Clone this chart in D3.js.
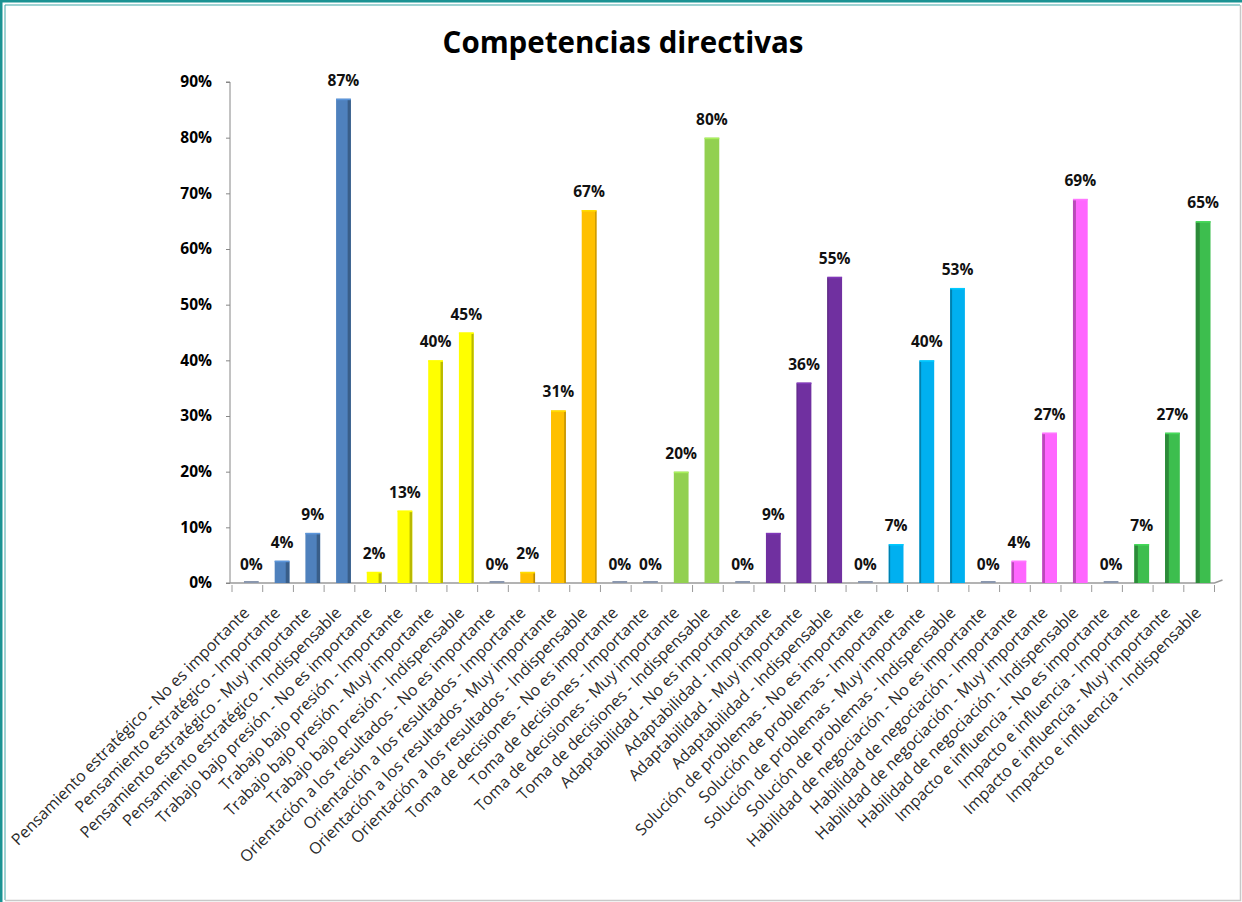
<!DOCTYPE html>
<html>
<head>
<meta charset="utf-8">
<script src="https://cdn.jsdelivr.net/npm/d3@7"></script>
<style>
  html, body { margin: 0; padding: 0; background: #fff; }
  svg { display: block; }
</style>
</head>
<body>
<svg id="chart" width="1242" height="902"></svg>
<script>
// Competencias evaluadas y niveles de importancia
const competencias = [
  "Pensamiento estratégico", "Trabajo bajo presión", "Orientación a los resultados",
  "Toma de decisiones", "Adaptabilidad", "Solución de problemas",
  "Habilidad de negociación", "Impacto e influencia"
];
const niveles = ["No es importante", "Importante", "Muy importante", "Indispensable"];

// Porcentaje de respuestas por nivel (mismo orden que `niveles`)
const pensamiento   = [0, 4, 9, 87];
const trabajo       = [2, 13, 40, 45];
const orientacion   = [0, 2, 31, 67];
const toma          = [0, 0, 20, 80];
const adaptabilidad = [0, 9, 36, 55];
const solucion      = [0, 7, 40, 53];
const habilidad     = [0, 4, 27, 69];
const impacto       = [0, 7, 27, 65];

const colores = ["#4F81BD", "#FFFF00", "#FFC000", "#92D050", "#7030A0", "#00B0F0", "#FF66FF", "#3DBE4E"];
const yTicks = [0, 10, 20, 30, 40, 50, 60, 70, 80, 90];

const series = [pensamiento, trabajo, orientacion, toma, adaptabilidad, solucion, habilidad, impacto];
const data = [];
competencias.forEach((c, i) => {
  niveles.forEach((n, j) => {
    data.push({ label: c + " - " + n, value: series[i][j], color: colores[i] });
  });
});

const svg = d3.select("#chart");
const W = 1242, H = 902;

// Marco de la ventana
svg.append("rect").attr("x", 0).attr("y", 0).attr("width", W).attr("height", H).attr("fill", "#fff");
svg.append("path").attr("d", `M1,${H} L1,1 L${W},1`).attr("fill", "none").attr("stroke", "#1A9393").attr("stroke-width", 3);
svg.append("path").attr("d", `M5,${H - 2} L5,5 L${W - 2},5`).attr("fill", "none").attr("stroke", "#3FA7A7").attr("stroke-width", 1);
svg.append("path").attr("d", `M5,${H - 1.5} L${W - 1.5},${H - 1.5} L${W - 1.5},5`).attr("fill", "none").attr("stroke", "#C8C8C8").attr("stroke-width", 1.5);

const x = d3.scaleBand().domain(data.map(d => d.label)).range([236, 1218.5]).paddingInner(0.52).paddingOuter(0.26);
const y = d3.scaleLinear().domain([0, 90]).range([583, 82]);

const font = "'Open Sans', 'DejaVu Sans', sans-serif";

// Título
svg.append("text").attr("x", 623).attr("y", 53).attr("text-anchor", "middle")
  .attr("font-family", font).attr("font-weight", "bold").attr("font-size", 29.5)
  .attr("fill", "#000").text("Competencias directivas");

// Eje Y
const yAxis = d3.axisLeft(y).tickValues(yTicks).tickFormat(d => d + "%").tickSize(4).tickPadding(14);
const gy = svg.append("g").attr("transform", "translate(230,0)").call(yAxis);
gy.select(".domain").attr("stroke", "#868686").attr("d", `M-4,${y(90)}H0V${y(0)}H-4`);
gy.selectAll(".tick line").attr("stroke", "#868686");
gy.selectAll(".tick text").attr("font-family", font).attr("font-weight", "bold").attr("font-size", 15.5).attr("fill", "#000");

// Suelo / eje X
const xEnd = x.range()[1];
const floor = svg.append("g");
floor.append("path").attr("d", `M230,${y(0)} H${xEnd - 4} L${xEnd + 4},${y(0) - 3}`)
  .attr("fill", "none").attr("stroke", "#9A9A9A").attr("stroke-width", 1.5);
const step = x.step();
const tickPos = d3.range(data.length + 1).map(i => x.range()[0] + i * step - 4);
floor.selectAll("line.xt").data(tickPos).join("line").attr("class", "xt")
  .attr("x1", d => d).attr("x2", d => d).attr("y1", y(0) + 2).attr("y2", y(0) + 9)
  .attr("stroke", "#9A9A9A").attr("stroke-width", 1);

// Barras con cara lateral sombreada
const centro = 725;
const bars = svg.append("g");
data.forEach(d => {
  const x0 = x(d.label), bw = x.bandwidth();
  const top = y(d.value), base = y(0);
  if (d.value === 0) {
    bars.append("rect").attr("x", x0).attr("y", base - 2).attr("width", bw).attr("height", 2)
      .attr("fill", "#8A97AE");
    return;
  }
  const cx = x0 + bw / 2;
  const side = Math.min(4, Math.abs(cx - centro) / 120);
  const dark = d3.color(d.color).darker(0.9);
  bars.append("rect").attr("x", x0).attr("y", top).attr("width", bw).attr("height", base - top)
    .attr("fill", d.color);
  if (side > 0.5) {
    bars.append("rect")
      .attr("x", cx < centro ? x0 + bw - side : x0)
      .attr("y", top + 1).attr("width", side).attr("height", base - top - 1)
      .attr("fill", dark);
  }
  bars.append("rect").attr("x", x0).attr("y", top).attr("width", bw).attr("height", 1.5)
    .attr("fill", d3.color(d.color).brighter(0.4));
});

// Etiquetas de valor
svg.append("g").selectAll("text").data(data).join("text")
  .attr("x", d => x(d.label) + x.bandwidth() / 2)
  .attr("y", d => y(d.value) - 13)
  .attr("text-anchor", "middle")
  .attr("font-family", font).attr("font-weight", "bold").attr("font-size", 15.5).attr("fill", "#111")
  .text(d => d.value + "%");

// Etiquetas de categoría rotadas
svg.append("g").selectAll("text").data(data).join("text")
  .attr("transform", d => `translate(${x(d.label) + x.bandwidth() / 2 - 1},${y(0) + 31}) rotate(-45)`)
  .attr("text-anchor", "end")
  .attr("font-family", font).attr("font-size", 16).attr("fill", "#2a2a2a")
  .text(d => d.label);
</script>
</body>
</html>
